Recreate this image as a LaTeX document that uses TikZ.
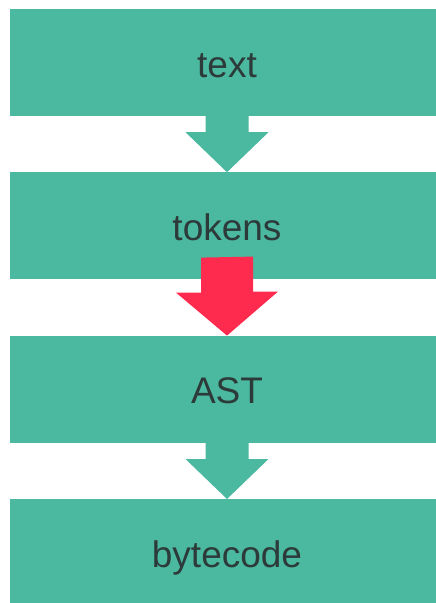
\documentclass[tikz,border=0pt]{standalone}
\usepackage{fontspec}
\setmainfont{Liberation Sans}
\usepackage{tikz}
\usetikzlibrary{calc,positioning}
\definecolor{stagegreen}{HTML}{4BB8A0}
\definecolor{hotred}{HTML}{FF2B4E}
\definecolor{inkgray}{HTML}{2D3A3A}
\tikzset{
  stage/.style={fill=stagegreen,minimum width=434pt,minimum height=107pt,
    inner sep=0pt,text height=29pt,text depth=0pt,text=inkgray,
    font=\fontsize{37}{40}\selectfont},
  flow/.style={fill=stagegreen},
  hot/.style={fill=hotred}
}
\begin{document}
\begin{tikzpicture}
  \clip (0,0) rectangle (436pt,-603pt);
  \fill[white] (0,0) rectangle (436pt,-603pt);
  \node[stage] (text) at (227pt,-62.5pt) {text};
  \node[stage,below=56pt of text] (tokens) {tokens};
  \node[stage,below=56pt of tokens] (ast) {AST};
  \node[stage,below=56pt of ast] (bytecode) {bytecode};
  % plain arrows
  \fill[flow] ($(text.south)+(-21.5pt,0)$) -- ++(0,-16pt) -- ++(-20pt,0)
    -- (tokens.north) -- ++(41.5pt,40pt) -- ++(-20pt,0) -- ++(0,16pt) -- cycle;
  \fill[flow] ($(ast.south)+(-21.5pt,0)$) -- ++(0,-16pt) -- ++(-20pt,0)
    -- (bytecode.north) -- ++(41.5pt,40pt) -- ++(-20pt,0) -- ++(0,16pt) -- cycle;
  % highlighted arrow
  \fill[hot] ($(tokens.south)+(-26pt,22pt)$) -- ++(0,-35pt) -- ++(-25pt,0)
    -- (ast.north) -- ++(51pt,44pt) -- ++(-25pt,0) -- ++(0,35pt) -- cycle;
\end{tikzpicture}
\end{document}
